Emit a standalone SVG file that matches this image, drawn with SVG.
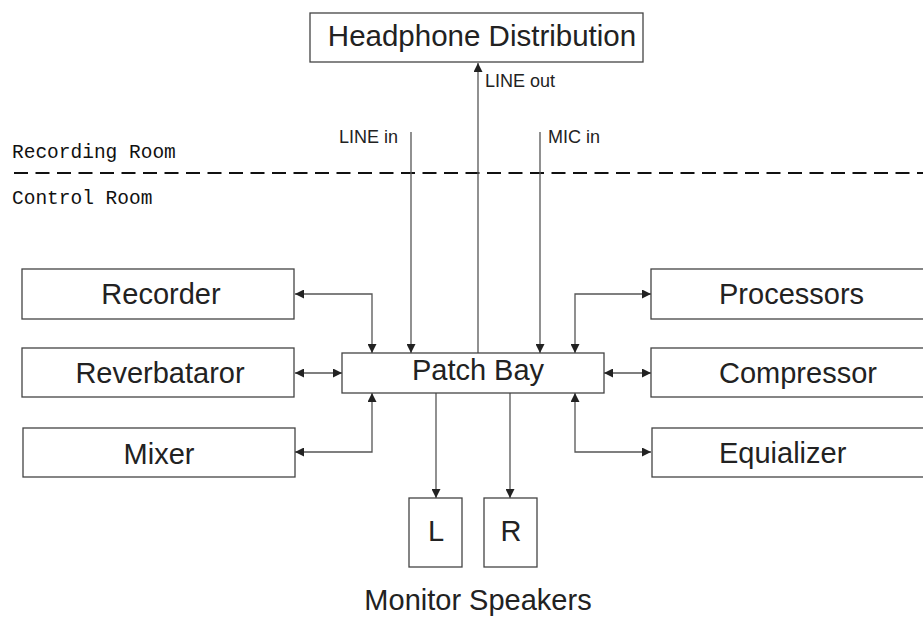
<svg xmlns="http://www.w3.org/2000/svg" width="923" height="617" viewBox="0 0 923 617">
<style>
.box{fill:#fff;stroke:#444;stroke-width:1.3}
.lbl{font-family:"Liberation Sans",Arial,sans-serif;font-size:29px;fill:#222}
.sm{font-family:"Liberation Sans",Arial,sans-serif;font-size:18px;fill:#222}
.mono{font-family:"Liberation Mono","DejaVu Sans Mono",monospace;font-size:19.5px;fill:#111}
.con{fill:none;stroke:#555;stroke-width:1.3}
</style>
<defs>
<marker id="ah" viewBox="0 0 10 10" refX="10" refY="5" markerWidth="9" markerHeight="9" markerUnits="userSpaceOnUse" orient="auto-start-reverse">
<path d="M0,0 L10,5 L0,10 Z" fill="#222"/>
</marker>
</defs>
<rect width="923" height="617" fill="#fff"/>
<g id="divider">
<line x1="14" y1="173" x2="923" y2="173" stroke="#111" stroke-width="2" stroke-dasharray="14 7.5"/>
<text class="mono" x="12" y="158">Recording Room</text>
<text class="mono" x="12" y="204">Control Room</text>
</g>
<g id="connectors">
<path class="con" d="M478,353 V63" marker-end="url(#ah)"/>
<path class="con" d="M411,132 V353" marker-end="url(#ah)"/>
<path class="con" d="M540,132 V353" marker-end="url(#ah)"/>
<path class="con" d="M295,294 H372 V353" marker-start="url(#ah)" marker-end="url(#ah)"/>
<path class="con" d="M295,373 H342" marker-start="url(#ah)" marker-end="url(#ah)"/>
<path class="con" d="M295,452 H372 V393" marker-start="url(#ah)" marker-end="url(#ah)"/>
<path class="con" d="M651,294 H575 V353" marker-start="url(#ah)" marker-end="url(#ah)"/>
<path class="con" d="M651,373 H604" marker-start="url(#ah)" marker-end="url(#ah)"/>
<path class="con" d="M651,452 H575 V393" marker-start="url(#ah)" marker-end="url(#ah)"/>
<path class="con" d="M436,393 V498" marker-end="url(#ah)"/>
<path class="con" d="M510,393 V498" marker-end="url(#ah)"/>
<text class="sm" x="485" y="87">LINE out</text>
<text class="sm" x="339" y="143">LINE in</text>
<text class="sm" x="548" y="143">MIC in</text>
</g>
<g id="headphone">
<rect class="box" x="310" y="13" width="333" height="49"/>
<text class="lbl" x="482" y="46" text-anchor="middle" style="font-size:29.5px">Headphone Distribution</text>
</g>
<g id="patchbay">
<rect class="box" x="342" y="353" width="262" height="40"/>
<text class="lbl" x="478" y="380" text-anchor="middle">Patch Bay</text>
</g>
<g id="recorder">
<rect class="box" x="22" y="269" width="272" height="50"/>
<text class="lbl" x="161" y="304" text-anchor="middle">Recorder</text>
</g>
<g id="reverbataror">
<rect class="box" x="22" y="348" width="272" height="49"/>
<text class="lbl" x="160" y="383" text-anchor="middle">Reverbataror</text>
</g>
<g id="mixer">
<rect class="box" x="23" y="428" width="272" height="49"/>
<text class="lbl" x="159" y="464" text-anchor="middle">Mixer</text>
</g>
<g id="processors">
<rect class="box" x="651" y="269" width="280" height="50"/>
<text class="lbl" x="719" y="304">Processors</text>
</g>
<g id="compressor">
<rect class="box" x="651" y="348" width="280" height="49"/>
<text class="lbl" x="719" y="383">Compressor</text>
</g>
<g id="equalizer">
<rect class="box" x="652" y="428" width="280" height="49"/>
<text class="lbl" x="719" y="463">Equializer</text>
</g>
<g id="speaker-l">
<rect class="box" x="409" y="498" width="53" height="69"/>
<text class="lbl" x="436" y="541" text-anchor="middle">L</text>
</g>
<g id="speaker-r">
<rect class="box" x="484" y="498" width="53" height="69"/>
<text class="lbl" x="511" y="541" text-anchor="middle">R</text>
</g>
<g id="monitor-label">
<text class="lbl" x="478" y="610" text-anchor="middle">Monitor Speakers</text>
</g>
</svg>
